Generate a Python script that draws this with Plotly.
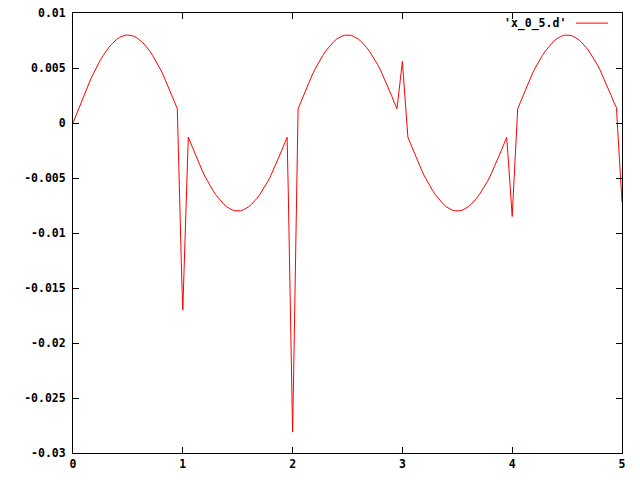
import plotly.graph_objects as go

# ---- data (one list per stretch of the curve) ----
x_a = [0.000, 0.025, 0.050, 0.075, 0.100, 0.125, 0.150, 0.175, 0.200, 0.225, 0.250, 0.275, 0.300,
       0.325, 0.350, 0.375, 0.400, 0.425, 0.450, 0.475, 0.500, 0.525, 0.550, 0.575, 0.600, 0.625,
       0.650, 0.675, 0.700, 0.725, 0.750, 0.775, 0.800, 0.825, 0.850, 0.875, 0.900, 0.925, 0.950]
y_a = [0.0, 0.00064, 0.00128, 0.0019, 0.00252, 0.00312, 0.00372, 0.00428, 0.00482, 0.0053, 0.00574,
       0.00614, 0.00652, 0.00685, 0.00715, 0.0074, 0.00762, 0.00779, 0.0079, 0.00798, 0.0080, 0.00798,
       0.0079, 0.00779, 0.00762, 0.0074, 0.00715, 0.00685, 0.00652, 0.00614, 0.00574, 0.0053, 0.00482,
       0.00428, 0.00372, 0.00312, 0.00252, 0.0019, 0.0013]

x_s1 = [0.96, 0.97, 0.98, 0.99, 1.00, 1.01, 1.02, 1.03, 1.04]
y_s1 = [-0.0030, -0.0068, -0.0105, -0.0140, -0.0170, -0.0140, -0.0105, -0.0068, -0.0032]

x_b = [1.050, 1.075, 1.100, 1.125, 1.150, 1.175, 1.200, 1.225, 1.250, 1.275, 1.300, 1.325, 1.350,
       1.375, 1.400, 1.425, 1.450, 1.475, 1.500, 1.525, 1.550, 1.575, 1.600, 1.625, 1.650, 1.675,
       1.700, 1.725, 1.750, 1.775, 1.800, 1.825, 1.850, 1.875, 1.900, 1.925, 1.950]
y_b = [-0.00128, -0.0019, -0.00252, -0.00312, -0.00372, -0.00428, -0.00482, -0.0053, -0.00574,
       -0.00614, -0.00652, -0.00685, -0.00715, -0.0074, -0.00762, -0.00779, -0.0079, -0.00798, -0.0080,
       -0.00798, -0.0079, -0.00779, -0.00762, -0.0074, -0.00715, -0.00685, -0.00652, -0.00614, -0.00574,
       -0.0053, -0.00482, -0.00428, -0.00372, -0.00312, -0.00252, -0.0019, -0.0013]

x_s2 = [1.96, 1.97, 1.98, 1.99, 2.00, 2.01, 2.02, 2.03, 2.04]
y_s2 = [-0.0060, -0.0115, -0.0170, -0.0225, -0.0281, -0.0225, -0.0165, -0.0110, -0.0050]

x_c = [2.050, 2.075, 2.100, 2.125, 2.150, 2.175, 2.200, 2.225, 2.250, 2.275, 2.300, 2.325, 2.350,
       2.375, 2.400, 2.425, 2.450, 2.475, 2.500, 2.525, 2.550, 2.575, 2.600, 2.625, 2.650, 2.675,
       2.700, 2.725, 2.750, 2.775, 2.800, 2.825, 2.850, 2.875, 2.900, 2.925, 2.950]
y_c = [0.00128, 0.0019, 0.00252, 0.00312, 0.00372, 0.00428, 0.00482, 0.0053, 0.00574,
       0.00614, 0.00652, 0.00685, 0.00715, 0.0074, 0.00762, 0.00779, 0.0079, 0.00798, 0.0080,
       0.00798, 0.0079, 0.00779, 0.00762, 0.0074, 0.00715, 0.00685, 0.00652, 0.00614, 0.00574,
       0.0053, 0.00482, 0.00428, 0.00372, 0.00312, 0.00252, 0.0019, 0.0013]

x_s3 = [2.96, 2.97, 2.98, 2.99, 3.00, 3.01, 3.02, 3.03, 3.04]
y_s3 = [0.0021, 0.0030, 0.0039, 0.0048, 0.0056, 0.0042, 0.0028, 0.0013, -0.0002]

x_d = [3.050, 3.075, 3.100, 3.125, 3.150, 3.175, 3.200, 3.225, 3.250, 3.275, 3.300, 3.325, 3.350,
       3.375, 3.400, 3.425, 3.450, 3.475, 3.500, 3.525, 3.550, 3.575, 3.600, 3.625, 3.650, 3.675,
       3.700, 3.725, 3.750, 3.775, 3.800, 3.825, 3.850, 3.875, 3.900, 3.925, 3.950]
y_d = [-0.00128, -0.0019, -0.00252, -0.00312, -0.00372, -0.00428, -0.00482, -0.0053, -0.00574,
       -0.00614, -0.00652, -0.00685, -0.00715, -0.0074, -0.00762, -0.00779, -0.0079, -0.00798, -0.0080,
       -0.00798, -0.0079, -0.00779, -0.00762, -0.0074, -0.00715, -0.00685, -0.00652, -0.00614, -0.00574,
       -0.0053, -0.00482, -0.00428, -0.00372, -0.00312, -0.00252, -0.0019, -0.0013]

x_s4 = [3.96, 3.97, 3.98, 3.99, 4.00, 4.01, 4.02, 4.03, 4.04]
y_s4 = [-0.0027, -0.0042, -0.0057, -0.0071, -0.0085, -0.0065, -0.0045, -0.0025, -0.0006]

x_e = [4.050, 4.075, 4.100, 4.125, 4.150, 4.175, 4.200, 4.225, 4.250, 4.275, 4.300, 4.325, 4.350,
       4.375, 4.400, 4.425, 4.450, 4.475, 4.500, 4.525, 4.550, 4.575, 4.600, 4.625, 4.650, 4.675,
       4.700, 4.725, 4.750, 4.775, 4.800, 4.825, 4.850, 4.875, 4.900, 4.925, 4.950]
y_e = [0.00128, 0.0019, 0.00252, 0.00312, 0.00372, 0.00428, 0.00482, 0.0053, 0.00574,
       0.00614, 0.00652, 0.00685, 0.00715, 0.0074, 0.00762, 0.00779, 0.0079, 0.00798, 0.0080,
       0.00798, 0.0079, 0.00779, 0.00762, 0.0074, 0.00715, 0.00685, 0.00652, 0.00614, 0.00574,
       0.0053, 0.00482, 0.00428, 0.00372, 0.00312, 0.00252, 0.0019, 0.0014]

x_end = [4.96, 4.97, 4.98, 4.99, 5.00]
y_end = [-0.0005, -0.0024, -0.0043, -0.0060, -0.0072]

series_name = "'x_0_5.d'"
x_ticks = [0, 1, 2, 3, 4, 5]
x_tick_text = ["0", "1", "2", "3", "4", "5"]
y_ticks = [0.01, 0.005, 0, -0.005, -0.01, -0.015, -0.02, -0.025, -0.03]
y_tick_text = ["0.01", "0.005", "0", "-0.005", "-0.01", "-0.015", "-0.02", "-0.025", "-0.03"]

x_vals = x_a + x_s1 + x_b + x_s2 + x_c + x_s3 + x_d + x_s4 + x_e + x_end
y_vals = y_a + y_s1 + y_b + y_s2 + y_c + y_s3 + y_d + y_s4 + y_e + y_end
assert len(x_vals) == len(y_vals)

FONT = "DejaVu Sans Mono"
TICKFONT = dict(family=FONT, size=11.5, color="black", weight="bold")

fig = go.Figure()
fig.add_trace(go.Scatter(x=x_vals, y=y_vals, mode="lines",
                         line=dict(color="#ff0000", width=1),
                         name=series_name, showlegend=False))

axis_common = dict(showgrid=False, zeroline=False, showline=True, linecolor="black",
                   linewidth=1, mirror="ticks", ticks="inside", ticklen=6,
                   tickcolor="black", tickfont=TICKFONT, ticklabeloverflow="allow",
                   automargin=False)
fig.update_xaxes(range=[0, 5], tickvals=x_ticks, ticktext=x_tick_text, **axis_common)
fig.update_yaxes(range=[-0.03, 0.01], tickvals=y_ticks, ticktext=y_tick_text,
                 ticklabelstandoff=4, **axis_common)

# gnuplot-style key: text then line sample
fig.add_annotation(xref="paper", yref="paper", x=0.9016, y=0.977, text=series_name,
                   showarrow=False, xanchor="right", yanchor="middle", font=TICKFONT)
fig.add_shape(type="line", xref="paper", yref="paper", x0=0.916, x1=0.9745,
              y0=0.977, y1=0.977, line=dict(color="#ff0000", width=1))

fig.update_layout(width=640, height=480, plot_bgcolor="white", paper_bgcolor="white",
                  margin=dict(l=73, r=18, t=13, b=27, autoexpand=False), showlegend=False)

# remove the page's default body margin so the 640x480 figure fills the window exactly
fig.write_html("out.html", config={"displayModeBar": False},
               post_script="document.body.style.margin='0';document.body.style.overflow='hidden';")
